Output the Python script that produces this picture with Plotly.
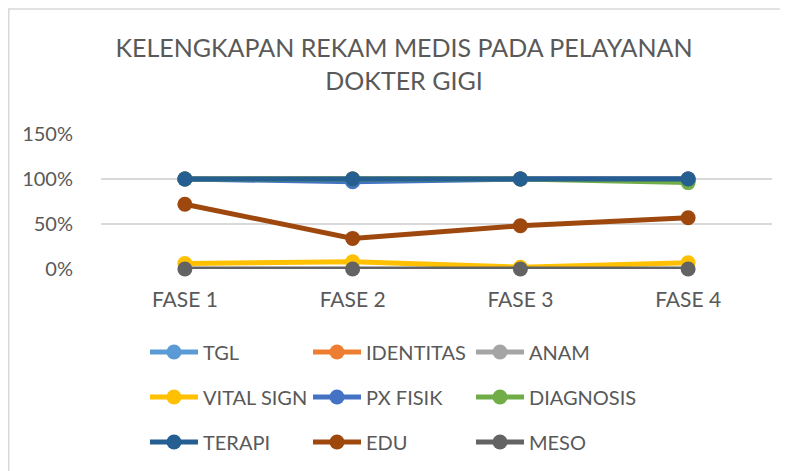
import plotly.graph_objects as go

categories = ["FASE 1", "FASE 2", "FASE 3", "FASE 4"]
series_names = ["TGL", "IDENTITAS", "ANAM", "VITAL SIGN", "PX FISIK",
                "DIAGNOSIS", "TERAPI", "EDU", "MESO"]
tgl = [1.00, 1.00, 1.00, 1.00]
identitas = [1.00, 1.00, 1.00, 1.00]
anam = [1.00, 1.00, 1.00, 1.00]
vital_sign = [0.06, 0.08, 0.02, 0.07]
px_fisik = [1.00, 0.97, 1.00, 1.00]
diagnosis = [1.00, 1.00, 1.00, 0.96]
terapi = [1.00, 1.00, 1.00, 1.00]
edu = [0.72, 0.34, 0.48, 0.57]
meso = [0.00, 0.00, 0.00, 0.00]
series_values = [tgl, identitas, anam, vital_sign, px_fisik, diagnosis, terapi, edu, meso]
y_tick_vals = [0, 0.5, 1.0, 1.5]
y_tick_text = ["0%", "50%", "100%", "150%"]

colors = ["#5B9BD5", "#ED7D31", "#A5A5A5", "#FFC000", "#4472C4",
          "#70AD47", "#255E91", "#9E480E", "#636363"]
# legend laid out as 3 columns (one vertical legend per column)
legend_ids = ["legend", "legend2", "legend3"] * 3

FONT = "Lato"
TXT = "#595959"

fig = go.Figure()
for name, vals, col, lg in zip(series_names, series_values, colors, legend_ids):
    fig.add_trace(go.Scatter(
        x=categories, y=vals, name=name, mode="lines+markers",
        line=dict(color=col, width=5),
        marker=dict(color=col, size=15),
        cliponaxis=False, legend=lg, legendgroup=name,
    ))

# page has an 8px body margin, so the figure is 8px smaller than the window
W, H = 780, 463
L, R, T, B = 93, 16, 126, 202
pw = W - L - R
ph = H - T - B

def px_to_paper_x(px):
    return (px - L) / pw

def px_to_paper_y(py):
    return (H - B - py) / ph

leg_common = dict(orientation="v", font=dict(family=FONT, size=20, color=TXT),
                  bgcolor="rgba(0,0,0,0)", itemwidth=48, tracegroupgap=16,
                  xanchor="left", yanchor="middle", traceorder="grouped")
legs = {}
for key, colx in zip(["legend", "legend2", "legend3"], [137, 300, 463]):
    legs[key] = dict(leg_common, x=px_to_paper_x(colx), y=px_to_paper_y(389))

fig.update_layout(
    width=W, height=H,
    margin=dict(l=L, r=R, t=T, b=B, autoexpand=False),
    paper_bgcolor="white", plot_bgcolor="white",
    title=dict(text="KELENGKAPAN REKAM MEDIS PADA PELAYANAN<br>DOKTER GIGI",
               font=dict(family=FONT, size=25, color=TXT),
               x=396 / W, xref="container", xanchor="center",
               y=1 - 49 / H, yref="container", yanchor="top"),
    xaxis=dict(type="category", range=[-0.5, 3.5], showgrid=False, zeroline=False,
               showline=False, ticks="", ticklabelstandoff=16,
               tickfont=dict(family=FONT, size=21, color=TXT)),
    yaxis=dict(range=[0, 1.5], tickvals=y_tick_vals, ticktext=y_tick_text,
               showgrid=True, gridcolor="#D9D9D9", gridwidth=1.5, zeroline=False,
               showline=False, ticks="", ticklabelstandoff=27,
               tickfont=dict(family=FONT, size=20, color=TXT)),
    showlegend=True,
    shapes=[
        dict(type="line", xref="paper", yref="paper",
             x0=px_to_paper_x(0.75), x1=px_to_paper_x(0.75),
             y0=px_to_paper_y(1), y1=px_to_paper_y(H + 5),
             line=dict(color="#D9D9D9", width=1.5)),
        dict(type="line", xref="paper", yref="paper",
             x0=px_to_paper_x(0), x1=px_to_paper_x(W + 5),
             y0=px_to_paper_y(1), y1=px_to_paper_y(1),
             line=dict(color="#D9D9D9", width=1.5)),
    ],
)
fig.update_layout(**legs)

fig.write_html("out.html")
